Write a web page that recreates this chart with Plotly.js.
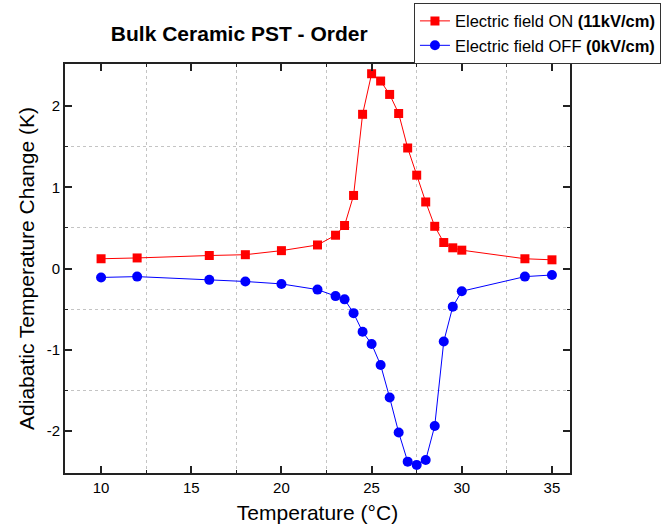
<!DOCTYPE html>
<html>
<head>
<meta charset="utf-8">
<script src="https://cdn.plot.ly/plotly-3.0.1.min.js"></script>
<style>html,body{margin:0;padding:0;background:#fff}#chart{width:668px;height:531px}</style>
</head>
<body>
<div id="chart"></div>
<script>
const temperature = [10, 12, 16, 18, 20, 22, 23, 23.5, 24, 24.5, 25, 25.5, 26, 26.5, 27, 27.5, 28, 28.5, 29, 29.5, 30, 33.5, 35];
const fieldOn = [0.12, 0.13, 0.16, 0.17, 0.22, 0.29, 0.41, 0.53, 0.90, 1.90, 2.40, 2.31, 2.145, 1.91, 1.485, 1.15, 0.82, 0.52, 0.32, 0.255, 0.226, 0.12, 0.107];
const fieldOff = [-0.11, -0.10, -0.14, -0.16, -0.19, -0.26, -0.34, -0.38, -0.55, -0.78, -0.93, -1.19, -1.59, -2.02, -2.38, -2.42, -2.36, -1.94, -0.90, -0.47, -0.28, -0.10, -0.08];
const xTicks = [10, 15, 20, 25, 30, 35];
const yTicks = [-2, -1, 0, 1, 2];
const xGrid = [12.5, 17.5, 22.5, 27.5, 32.5];
const yGrid = [-1.5, -0.5, 0.5, 1.5];

const FONT = 'Liberation Sans, Arial, sans-serif';

const traces = [
  {x: temperature, y: fieldOn, type: 'scatter', mode: 'lines+markers',
   name: 'Electric field ON <b>(11kV/cm)</b>',
   line: {color: '#ff0000', width: 1},
   marker: {symbol: 'square', size: 9, color: '#ff0000'}},
  {x: temperature, y: fieldOff, type: 'scatter', mode: 'lines+markers',
   name: 'Electric field OFF <b>(0kV/cm)</b>',
   line: {color: '#0000ff', width: 1},
   marker: {symbol: 'circle', size: 10, color: '#0000ff'}}
];

const axisCommon = {
  showline: true, linecolor: '#222', linewidth: 1.6, mirror: 'allticks',
  ticks: 'inside', ticklen: 7, tickwidth: 1.6, tickcolor: '#222',
  showgrid: false, zeroline: false, tickmode: 'array',
  tickfont: {family: FONT, size: 15, color: '#000'}
};
const minorCommon = {tickmode: 'array', ticks: 'inside', ticklen: 3, tickwidth: 1, tickcolor: '#222',
  showgrid: true, gridcolor: '#c4c4c4', griddash: 'dot', gridwidth: 1};

const layout = {
  width: 668, height: 531,
  margin: {l: 65, r: 98, t: 64, b: 58, autoexpand: false},
  paper_bgcolor: '#fff', plot_bgcolor: '#fff',
  font: {family: FONT, color: '#000'},
  title: {text: '<b>Bulk Ceramic PST - Order</b>', font: {size: 21},
          x: 0.345, xref: 'paper', xanchor: 'center', y: 1, yref: 'paper', yanchor: 'bottom', pad: {b: 23}},
  xaxis: Object.assign({}, axisCommon, {
    range: [8, 36], tickvals: xTicks, ticktext: xTicks.map(String),
    title: {text: 'Temperature (°C)', font: {size: 21}, standoff: 11},
    minor: Object.assign({tickvals: xGrid}, minorCommon)
  }),
  yaxis: Object.assign({}, axisCommon, {
    range: [-2.52, 2.52], tickvals: yTicks, ticktext: yTicks.map(String),
    title: {text: 'Adiabatic Temperature Change (K)', font: {size: 21}, standoff: 7},
    minor: Object.assign({tickvals: yGrid}, minorCommon)
  }),
  showlegend: true,
  legend: {x: 0.691, y: 1.15, xanchor: 'left', yanchor: 'top',
           bordercolor: '#333', borderwidth: 1, bgcolor: '#fff',
           font: {size: 16.5}, tracegroupgap: 0, itemwidth: 30}
};

Plotly.newPlot('chart', traces, layout, {displayModeBar: false});
</script>
</body>
</html>
